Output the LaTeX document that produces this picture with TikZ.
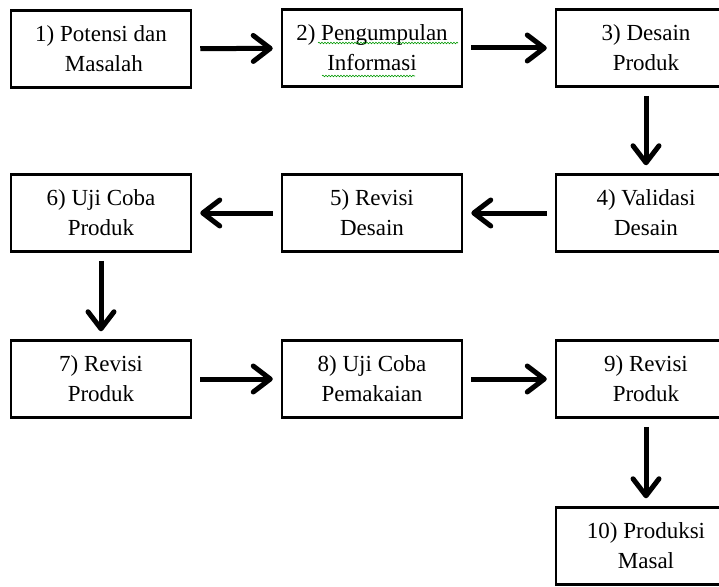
\documentclass[tikz,border=0pt]{standalone}
\usepackage{fontspec}
\setmainfont{Liberation Serif}
\usetikzlibrary{arrows.meta,decorations.pathmorphing}
\tikzset{
	stepbox/.style={draw, line width=2.5pt, minimum width=180pt, minimum height=77pt, inner sep=0pt, align=center, font=\fontsize{23}{30}\selectfont},
	flow/.style={line width=5pt, -{Straight Barb[length=17pt,width=26pt,round]}, shorten <=8pt, shorten >=8pt},
	spell/.style={green!60!black, line width=0.6pt, decorate, decoration={snake, amplitude=0.8pt, segment length=3pt}}
}
\begin{document}
\begin{tikzpicture}[x=1pt,y=-1pt]
		\useasboundingbox (0,0) rectangle (719,586);
		\clip (0,0) rectangle (719,586);
		% row 1
		\node[stepbox] (potensi) at (101,49) {1) Potensi dan\\ \ Masalah};
		\node[stepbox] (informasi) at (372,48) {2) Pengumpulan\\Informasi};
		\node[stepbox] (desain) at (646,48) {3) Desain\\Produk};
		% row 2
		\node[stepbox] (validasi) at (646,213) {4) Validasi\\Desain};
		\node[stepbox] (revisidesain) at (372,213) {5) Revisi\\Desain};
		\node[stepbox] (ujicoba) at (101,213) {6) Uji Coba\\Produk};
		% row 3
		\node[stepbox] (revisiproduk) at (101,379) {7) Revisi\\Produk};
		\node[stepbox] (pemakaian) at (372,379) {8) Uji Coba\\Pemakaian};
		\node[stepbox] (revisiakhir) at (646,379) {9) Revisi\\Produk};
		% row 4
		\node[stepbox] (produksi) at (646,546) {10) Produksi\\Masal};
		\draw[flow] (potensi) -- (informasi);
		\draw[flow] (informasi) -- (desain);
		\draw[flow] (desain) -- (validasi);
		\draw[flow] (validasi) -- (revisidesain);
		\draw[flow] (revisidesain) -- (ujicoba);
		\draw[flow] (ujicoba) -- (revisiproduk);
		\draw[flow] (revisiproduk) -- (pemakaian);
		\draw[flow] (pemakaian) -- (revisiakhir);
		\draw[flow] (revisiakhir) -- (produksi);
		\draw[spell] (318,43) -- (458,43);
		\draw[spell] (322,76) -- (415,76);
	\end{tikzpicture}
\end{document}
